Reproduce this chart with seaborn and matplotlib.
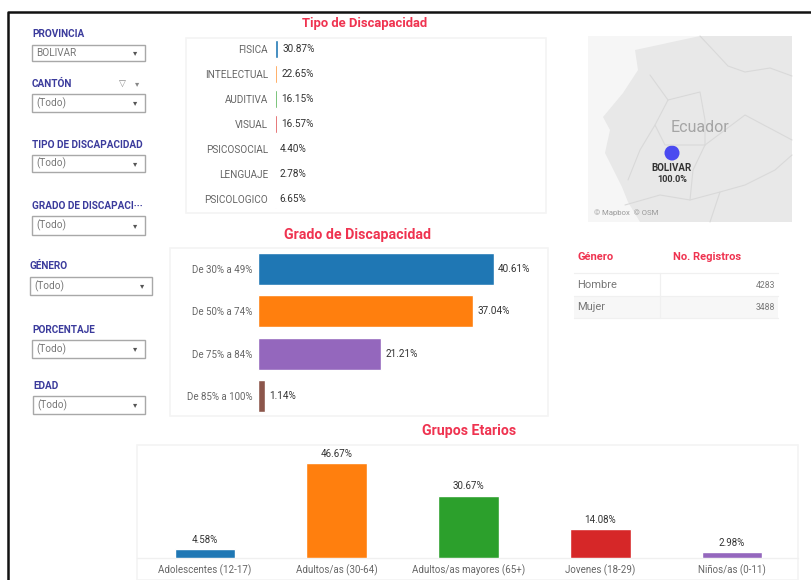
import matplotlib
matplotlib.use('Agg')
import matplotlib.pyplot as plt
import seaborn as sns
from matplotlib.patches import Rectangle, Polygon, Circle

# Datos
tipo_cats = ['FISICA', 'INTELECTUAL', 'AUDITIVA', 'VISUAL', 'PSICOSOCIAL', 'LENGUAJE', 'PSICOLOGICO']
tipo_vals = [30.87, 22.65, 16.15, 16.57, 4.40, 2.78, 6.65]
tipo_cols = ['#1f77b4', '#ff7f0e', '#2ca02c', '#d62728', '#9467bd', '#8c564b', '#e377c2']

grado_cats = ['De 30% a 49%', 'De 50% a 74%', 'De 75% a 84%', 'De 85% a 100%']
grado_vals = [40.61, 37.04, 21.21, 1.14]
grado_cols = ['#1f77b4', '#ff7f0e', '#9467bd', '#8c564b']

edad_cats = ['Adolescentes (12-17)', 'Adultos/as (30-64)', 'Adultos/as mayores (65+)', 'Jovenes (18-29)', 'Niños/as (0-11)']
edad_vals = [4.58, 46.67, 30.67, 14.08, 2.98]
edad_cols = ['#1f77b4', '#ff7f0e', '#2ca02c', '#d62728', '#9467bd']

filtros = ['PROVINCIA', 'CANTÓN', 'TIPO DE DISCAPACIDAD', 'GRADO DE DISCAPACI···', 'GÉNERO', 'PORCENTAJE', 'EDAD']
filtro_vals = ['BOLIVAR', '(Todo)', '(Todo)', '(Todo)', '(Todo)', '(Todo)', '(Todo)']

tabla_genero = ['Hombre', 'Mujer']
tabla_registros = ['4283', '3488']

sns.set_theme(style='white')
plt.rcParams['font.family'] = ['Roboto', 'DejaVu Sans']

W, H = 811, 580
fig = plt.figure(figsize=(W / 100, H / 100), dpi=100)

RED = '#ef3350'
LABEL = '#666666'
NAVY = '#3b3b9c'
EDGE = '#f4f4f4'


def px_axes(x0, y0, x1, y1):
    ax = fig.add_axes([x0 / W, 1 - y1 / H, (x1 - x0) / W, (y1 - y0) / H])
    ax.patch.set_alpha(0)
    return ax


# capa de fondo en pixeles
bg = fig.add_axes([0, 0, 1, 1], zorder=0)
bg.set_xlim(0, W)
bg.set_ylim(H, 0)
bg.axis('off')

bg.plot([8, 8, W], [H, 12, 12], color='#111111', lw=1.8)

for box in [(186, 38, 546, 213), (170, 248, 548, 416), (137, 445, 798, 580)]:
    bg.add_patch(Rectangle((box[0], box[1]), box[2] - box[0], box[3] - box[1],
                           fill=False, ec=EDGE, lw=1.2))

# filtros de la izquierda
filtro_pos = [(32, 145, 34, 45, 61), (32, 145, 84, 94, 112), (32, 145, 145, 155, 172),
              (32, 145, 206, 216, 235), (30, 152, 266, 277, 295), (32, 145, 330, 340, 358),
              (33, 145, 386, 396, 414)]
for name, val, (x0, x1, ly, y0, y1) in zip(filtros, filtro_vals, filtro_pos):
    bg.text(x0, ly, name, color=NAVY, fontsize=7.2, fontweight='bold', va='center')
    bg.add_patch(Rectangle((x0, y0), x1 - x0, y1 - y0, fc='white', ec='#a8a8a8', lw=1.0))
    bg.text(x0 + 4, (y0 + y1) / 2, val, color='#777777', fontsize=7.2, va='center')
    bg.text(x1 - 10, (y0 + y1) / 2, '▾', color='#555555', fontsize=6, va='center', ha='center',
            family='DejaVu Sans')
bg.text(122, 84, '▽', color='#888888', fontsize=6.5, va='center', ha='center', family='DejaVu Sans')
bg.text(137, 84, '▾', color='#888888', fontsize=6, va='center', ha='center', family='DejaVu Sans')

# mapa
bg.add_patch(Rectangle((588, 36), 204, 186, fc='#f6f6f6', ec='none'))
tierra = [(700, 36), (635, 50), (638, 70), (623, 93), (603, 117), (610, 130), (605, 153),
          (622, 187), (628, 202), (640, 222), (792, 222), (792, 36)]
bg.add_patch(Polygon(tierra, fc='#e8e8e8', ec='none'))
fronteras = [
    [(700, 36), (715, 52), (728, 66), (745, 72), (770, 68), (792, 76)],
    [(625, 205), (660, 195), (690, 200), (720, 192), (745, 185), (775, 170), (792, 155)],
    [(650, 75), (668, 100), (655, 125), (640, 150), (628, 180)],
    [(668, 100), (700, 92), (705, 120), (705, 145), (693, 170), (690, 200)],
    [(705, 145), (745, 115), (792, 140)],
    [(655, 125), (665, 145), (705, 145)],
    [(720, 192), (710, 222)],
]
for linea in fronteras:
    bg.plot([p[0] for p in linea], [p[1] for p in linea], color='#d9d9d9', lw=0.8)
bg.text(700, 127, 'Ecuador', color='#a5a5a5', fontsize=11.5, ha='center', va='center')
bg.add_patch(Circle((672, 153), 7.5, fc='#4a4af0', ec='none'))
bg.text(672, 168, 'BOLIVAR', color='#333333', fontsize=7, fontweight='bold', ha='center', va='center')
bg.text(672, 180, '100.0%', color='#333333', fontsize=6.6, fontweight='bold', ha='center', va='center')
bg.text(594, 213, '© Mapbox  © OSM', color='#999999', fontsize=5.6, va='center')

# tabla de genero
bg.add_patch(Rectangle((574, 296), 204, 22, fc='#f7f7f7', ec='none'))
for yy in [273, 296, 318]:
    bg.plot([574, 778], [yy, yy], color='#f0f0f0', lw=0.9)
bg.plot([660, 660], [273, 318], color='#f0f0f0', lw=0.9)
bg.text(577, 257, 'Género', color=RED, fontsize=8, fontweight='bold', va='center')
bg.text(673, 257, 'No. Registros', color=RED, fontsize=8, fontweight='bold', va='center')
for yy, g, r in zip([285, 307], tabla_genero, tabla_registros):
    bg.text(577, yy, g, color='#777777', fontsize=8, va='center')
    bg.text(775, yy, r, color='#777777', fontsize=6.2, va='center', ha='right')

bg.text(365, 24, 'Tipo de Discapacidad', color=RED, fontsize=9.4, fontweight='bold', ha='center', va='center')
bg.text(358, 235, 'Grado de Discapacidad', color=RED, fontsize=10.2, fontweight='bold', ha='center', va='center')
bg.text(469, 431, 'Grupos Etarios', color=RED, fontsize=10.2, fontweight='bold', ha='center', va='center')


def limpiar(ax):
    sns.despine(ax=ax, left=True, bottom=True)
    ax.set_xlabel('')
    ax.set_ylabel('')


# Tipo de Discapacidad: barras casi sin ancho, escala muy comprimida
ax1 = px_axes(275, 38, 546, 213)
sns.barplot(x=tipo_vals, y=tipo_cats, hue=tipo_cats, palette=tipo_cols, orient='h',
            legend=False, width=0.72, saturation=1, ax=ax1)
ax1.set_xlim(0, 2710)
ax1.set_ylim(6.56, -0.44)
ax1.set_xticks([])
ax1.tick_params(axis='y', length=0, pad=5, labelsize=7.2, labelcolor=LABEL)
for cont, v in zip(ax1.containers, tipo_vals):
    ax1.bar_label(cont, labels=[f'{v:.2f}%'], padding=3, fontsize=7.2, color='#333333')
limpiar(ax1)

# Grado de Discapacidad
ax2 = px_axes(258, 248, 548, 416)
sns.barplot(x=grado_vals, y=grado_cats, hue=grado_cats, palette=grado_cols, orient='h',
            legend=False, width=0.76, saturation=1, ax=ax2)
ax2.set_xlim(0, 290 / 5.81)
ax2.set_ylim(3.47, -0.496)
ax2.set_xticks([])
ax2.tick_params(axis='y', length=0, pad=4, labelsize=7, labelcolor=LABEL)
for cont, v in zip(ax2.containers, grado_vals):
    ax2.bar_label(cont, labels=[f'{v:.2f}%'], padding=3, fontsize=7.2, color='#333333')
limpiar(ax2)

# Grupos Etarios
ax3 = px_axes(137, 445, 798, 558)
sns.barplot(x=edad_cats, y=edad_vals, hue=edad_cats, palette=edad_cols,
            legend=False, width=0.46, saturation=1, ax=ax3)
ax3.set_xlim(-0.516, 4.5)
ax3.set_ylim(0, 55.5)
ax3.set_yticks([])
ax3.tick_params(axis='x', length=0, pad=5, labelsize=7, labelcolor=LABEL)
for cont, v in zip(ax3.containers, edad_vals):
    ax3.bar_label(cont, labels=[f'{v:.2f}%'], padding=3, fontsize=7, color='#333333')
limpiar(ax3)
bg.plot([137, 798], [558, 558], color='#f0f0f0', lw=1)

fig.savefig('out.png', dpi=100)
